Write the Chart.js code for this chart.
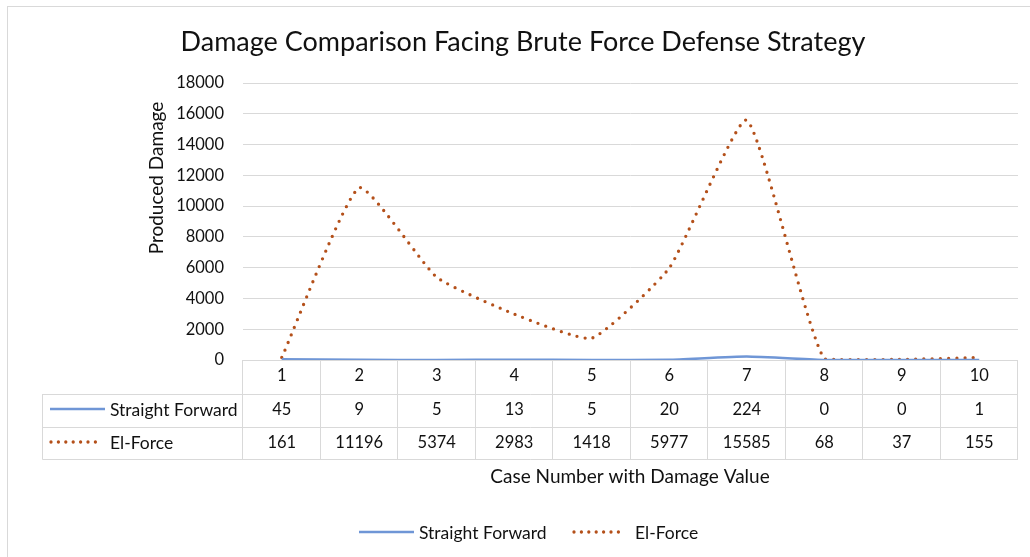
<!DOCTYPE html>
<html lang="en">
<head>
<meta charset="UTF-8">
<title>Damage Comparison Facing Brute Force Defense Strategy</title>
<script src="https://cdn.jsdelivr.net/npm/chart.js"></script>
<style>
  body { margin: 0; background: #fff; }
  #wrap { width: 1030px; height: 557px; position: relative; }
</style>
</head>
<body>
<div id="wrap"><canvas id="grafico"></canvas></div>
<script>
const casos = ['1', '2', '3', '4', '5', '6', '7', '8', '9', '10'];
const straightForward = [45, 9, 5, 13, 5, 20, 224, 0, 0, 1];
const elForce = [161, 11196, 5374, 2983, 1418, 5977, 15585, 68, 37, 155];
const nomesSeries = ['Straight Forward', 'El-Force'];
const yMin = 0, yMax = 18000, yPasso = 2000;

const corAzul = '#6f96d6';
const corMarrom = '#b4501a';
const corTexto = '#111';
const corGrade = '#d9d9d9';
const fonte = 'Lato, "Open Sans", sans-serif';

function linhaLegenda(ctx, x1, x2, y, serie) {
  ctx.save();
  ctx.beginPath();
  if (serie === 0) {
    ctx.strokeStyle = corAzul;
    ctx.lineWidth = 2.5;
    ctx.lineCap = 'butt';
  } else {
    ctx.strokeStyle = corMarrom;
    ctx.lineWidth = 3.3;
    ctx.lineCap = 'round';
    ctx.setLineDash([0, 7.4]);
  }
  ctx.moveTo(x1, y);
  ctx.lineTo(x2, y);
  ctx.stroke();
  ctx.restore();
}

const tabela = {
  id: 'tabela',
  beforeDraw(chart) {
    const ctx = chart.ctx;
    ctx.save();
    ctx.fillStyle = '#fff';
    ctx.fillRect(0, 0, chart.width, chart.height);
    ctx.restore();
  },
  afterDraw(chart) {
    const ctx = chart.ctx;
    const xs = chart.scales.x;
    const area = chart.chartArea;
    const larg = (xs.getPixelForTick(1) - xs.getPixelForTick(0));
    const linhas = [area.bottom, 394, 427, 459];
    const esq = 42.5;

    ctx.save();
    // borda externa
    ctx.strokeStyle = '#d9d9d9';
    ctx.lineWidth = 1;
    ctx.strokeRect(7.5, 6.5, 1040, 570);

    // titulo
    ctx.fillStyle = corTexto;
    ctx.textAlign = 'center';
    ctx.textBaseline = 'middle';
    ctx.font = '27px ' + fonte;
    ctx.fillText('Damage Comparison Facing Brute Force Defense Strategy', 523, 42);

    // titulo eixo y
    ctx.save();
    ctx.translate(157, 178);
    ctx.rotate(-Math.PI / 2);
    ctx.font = '19px ' + fonte;
    ctx.fillText('Produced Damage', 0, 0);
    ctx.restore();

    // grade da tabela
    ctx.strokeStyle = corGrade;
    ctx.beginPath();
    for (let i = 1; i < linhas.length; i++) {
      ctx.moveTo(esq, Math.round(linhas[i]) + 0.5);
      ctx.lineTo(area.right, Math.round(linhas[i]) + 0.5);
    }
    ctx.moveTo(esq, linhas[1]);
    ctx.lineTo(esq, linhas[3] + 0.5);
    for (let i = 0; i <= casos.length; i++) {
      const px = Math.round(xs.getPixelForTick(0) - larg / 2 + i * larg) - 0.5;
      ctx.moveTo(px, linhas[0]);
      ctx.lineTo(px, linhas[3] + 0.5);
    }
    ctx.stroke();

    // textos da tabela
    ctx.font = '16.5px ' + fonte;
    ctx.fillStyle = corTexto;
    const centros = [376, 410, 443];
    casos.forEach((c, i) => {
      const px = xs.getPixelForTick(i);
      ctx.fillText(c, px, centros[0]);
      ctx.fillText(String(straightForward[i]), px, centros[1]);
      ctx.fillText(String(elForce[i]), px, centros[2]);
    });
    ctx.font = '17.5px ' + fonte;
    ctx.textAlign = 'left';
    linhaLegenda(ctx, 50, 105, 409, 0);
    ctx.fillText(nomesSeries[0], 110, centros[1]);
    linhaLegenda(ctx, 51, 99, 442, 1);
    ctx.fillText(nomesSeries[1], 110, centros[2]);

    // titulo eixo x
    ctx.textAlign = 'center';
    ctx.font = '19px ' + fonte;
    ctx.fillText('Case Number with Damage Value', 630, 477);

    // legenda
    ctx.font = '17.5px ' + fonte;
    ctx.textAlign = 'left';
    linhaLegenda(ctx, 359, 414, 532, 0);
    ctx.fillText(nomesSeries[0], 419, 533);
    linhaLegenda(ctx, 574, 625, 532, 1);
    ctx.fillText(nomesSeries[1], 635, 533);
    ctx.restore();
  }
};

const ctx = document.getElementById('grafico').getContext('2d');
new Chart(ctx, {
  type: 'line',
  data: {
    labels: casos,
    datasets: [
      {
        label: nomesSeries[0],
        data: straightForward,
        borderColor: corAzul,
        borderWidth: 2.5,
        pointRadius: 0,
        tension: 0.15
      },
      {
        label: nomesSeries[1],
        data: elForce,
        borderColor: corMarrom,
        borderWidth: 3.3,
        borderDash: [0, 8.2],
        borderCapStyle: 'round',
        pointRadius: 0,
        tension: 0.15
      }
    ]
  },
  plugins: [tabela],
  options: {
    responsive: true,
    maintainAspectRatio: false,
    animation: false,
    layout: { padding: { left: 0, right: 12, top: 83, bottom: 0 } },
    plugins: {
      legend: { display: false },
      tooltip: { enabled: false }
    },
    scales: {
      x: {
        offset: true,
        grid: { display: false },
        border: { display: false },
        ticks: { display: false },
        afterFit(scale) { scale.height = 197; }
      },
      y: {
        min: yMin,
        max: yMax,
        ticks: {
          stepSize: yPasso,
          padding: 19,
          color: corTexto,
          font: { family: fonte, size: 16.5 },
          callback: (v) => String(v)
        },
        grid: { color: corGrade, drawTicks: false },
        border: { display: false },
        afterFit(scale) { scale.width = 243; }
      }
    }
  }
});
</script>
</body>
</html>
